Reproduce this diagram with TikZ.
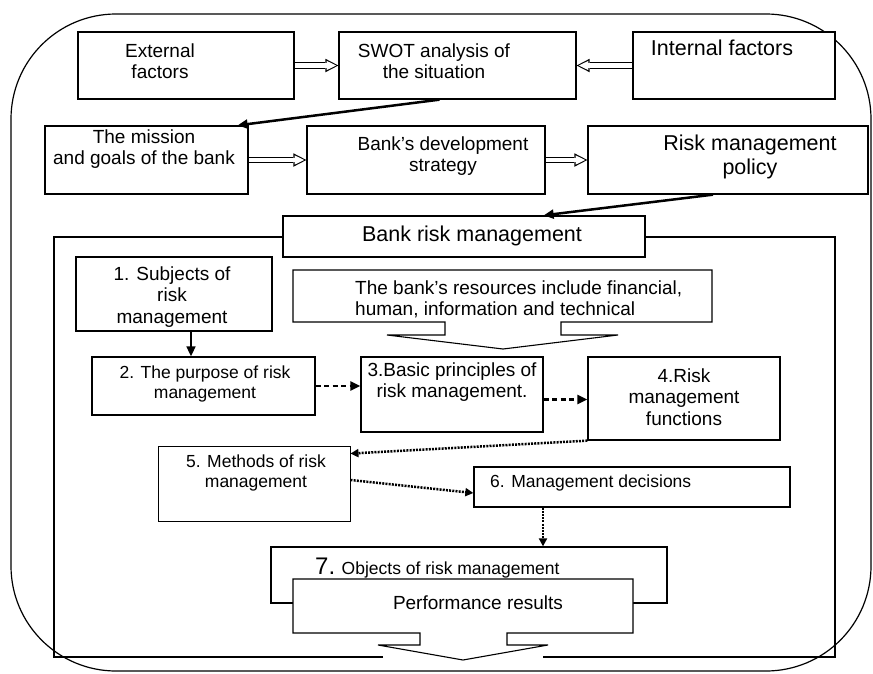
\documentclass[tikz,border=0pt]{standalone}
\usepackage{fontspec}
\setmainfont{Liberation Sans}
\usetikzlibrary{arrows.meta,positioning,calc}
\tikzset{
    >={Triangle[length=10pt,width=9pt]},
    box/.style={draw,fill=white,line width=1.3pt,inner sep=0pt},
    blockarrow/.style={draw,fill=white,line width=1.1pt},
    lbl/.style={font=\fontsize{19}{21.5}\selectfont,align=center,inner sep=0pt},
    lblbig/.style={lbl,font=\fontsize{21.5}{24}\selectfont},
    lblsmall/.style={lbl,font=\fontsize{17.5}{20}\selectfont},
    hollow/.style={line width=6.7pt,-{Triangle[length=13pt,width=13.5pt,line width=0pt]},shorten <=0.7pt,
        postaction={draw=white,line width=4.5pt,-{Triangle[length=9.6pt,width=9.4pt,line width=0pt]},
            shorten >=2.2pt,shorten <=0.8pt}},
    solidarrow/.style={->,line width=2.5pt},
    dasharrow/.style={->,line width=2.3pt,dash pattern=on 5pt off 3.5pt},
    dotarrow/.style={-{Triangle[length=8pt,width=8pt]},line width=2.5pt,dash pattern=on 2pt off 1.2pt}
}

\begin{document}
\begin{tikzpicture}[x=1pt,y=-1pt]
        \useasboundingbox (0,0) rectangle (873,673);
        % Frames
        \draw[line width=1.2pt,rounded corners=105pt] (11,14) rectangle (871,671);
        \draw[line width=1.2pt] (383,657) -- (54,657) -- (54,237) -- (835,237) -- (835,657) -- (543,657);

        % Boxes
        \foreach \n/\x/\y/\w/\h in {
            ext/186/65.5/216/67, swot/457.5/65.5/237/67, int/734/65.5/202/67,
            mission/146.5/160/203/68, strategy/426/160/238/68, policy/728/160/280/68,
            brm/464/236.5/362/41, subjects/174/294/196/74,
            purpose/203.5/386/223/58, principles/452/394.5/182/75, functions/684/398.5/192/83,
            decisions/632/487/316/40, objects/469/575/396/56
        } {
            \node[box,minimum width=\w pt,minimum height=\h pt] (\n) at (\x,\y) {};
        }
        \node[box,line width=0.9pt,minimum width=192pt,minimum height=75pt] (methods) at (254,483.5) {};

        % Block arrows
        \draw[blockarrow] (293,270) -- (712,270) -- (712,322) -- (561,322) -- (561,335) -- (618,335)
            -- (503,349) -- (387,335) -- (445,335) -- (445,322) -- (293,322) -- cycle;
        \draw[blockarrow] (293,579) -- (633,579) -- (633,633) -- (507,633) -- (507,645) -- (548,645)
            -- (463,660) -- (378,645) -- (420,645) -- (420,633) -- (293,633) -- cycle;

        % Texts
        \node[lbl] (extT) at (160,61) {External\\factors};
        \node[lbl] (swotT) at (434,61) {SWOT analysis of\\the situation};
        \node[lblbig] (intT) at (722,48) {Internal factors};
        \node[lbl] (missionT) at (144,149) {The mission\\and goals of the bank};
        \node[lbl] (strategyT) at (443,156) {Bank's development\\strategy};
        \node[lblbig] (policyT) at (750,157) {Risk management\\policy};
        \node[lblbig] (brmT) at (472,236) {Bank risk management};
        \node[lbl] (subjectsT) at (172,297) {1. Subjects of\\risk\\management};
        \node[lbl,align=left,anchor=west] (resT) at (355,299.5) {The bank's resources include financial,\\human, information and technical};
        \node[lblsmall] (purposeT) at (205,384) {2. The purpose of risk\\management};
        \node[lbl] (principlesT) at (452,382) {3.Basic principles of\\risk management.};
        \node[lbl] (functionsT) at (684,397) {4.Risk\\management\\functions};
        \node[lblsmall] (methodsT) at (256,473) {5. Methods of risk\\management};
        \node[lblsmall,anchor=west] (decisionsT) at (490,483) {6. Management decisions};
        \node[lblsmall,anchor=west] (objectsT) at (315,568) {{\fontsize{24}{24}\selectfont 7.} Objects of risk management};
        \node[lbl] (perfT) at (478,603) {Performance results};

        % Arrows
        \draw[hollow] (ext) -- (swot);
        \draw[hollow] (int) -- (swot);
        \draw[hollow] (mission) -- (strategy);
        \draw[hollow] (strategy) -- (policy);
        \draw[solidarrow] ([xshift=-18]swot.south) -- ([xshift=-11]mission.north east);
        \draw[solidarrow] ([xshift=-15]policy.south) -- ([xshift=-102]brm.north east);
        \coordinate (s1) at ([xshift=17]subjects.south);
        \draw[->,line width=1.6pt] (s1) -- (s1 |- purpose.north);
        \draw[dasharrow] (purpose.east) -- (purpose.east -| principles.west);
        \coordinate (p3) at ([yshift=-5]principles.east);
        \draw[dasharrow] (p3) -- (p3 -| functions.west);
        \draw[dotarrow] (functions.south west) -- ([yshift=-8]methods.north east);
        \draw[dotarrow] ([yshift=3.5]methods.east) -- ([yshift=-6]decisions.west);
        \coordinate (d6) at ([xshift=-89]decisions.south);
        \draw[dotarrow] (d6) -- (d6 |- objects.north);
    \end{tikzpicture}
\end{document}
